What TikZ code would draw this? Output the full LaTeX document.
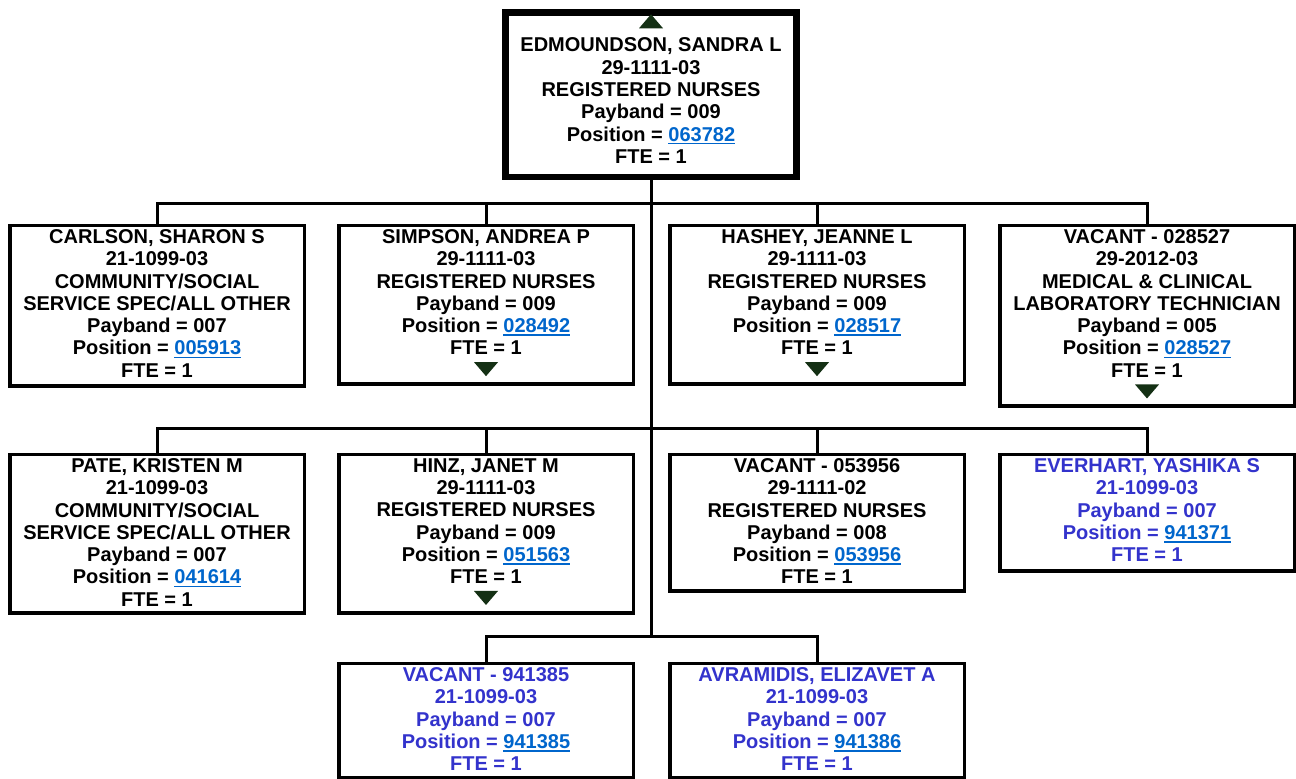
\documentclass[tikz,border=0pt]{standalone}
\usepackage{fontspec}
\setmainfont{Liberation Sans}[BoldFont={Liberation Sans Bold}]
\definecolor{linkblue}{RGB}{0,102,204}
\definecolor{newblue}{RGB}{51,51,204}
\definecolor{tricol}{RGB}{20,48,20}
\newcommand\lnk[1]{\leavevmode\textcolor{linkblue}{\setbox0\hbox{#1}\rlap{\rule[-3.2pt]{\wd0}{1.6pt}}\box0}}
\begin{document}
\begin{tikzpicture}[x=1pt,y=1pt,
  box/.style={draw=black, line width=3.5pt, minimum width=294.5pt, anchor=north, inner sep=0pt, fill=white},
  topbox/.style={draw=black, line width=6.5pt, minimum width=291pt, anchor=north, inner sep=0pt, fill=white},
  txt/.style={font=\bfseries\fontsize{20}{22.3}\selectfont, align=center, inner sep=0pt, anchor=north},
  newtxt/.style={txt, text=newblue},
  wire/.style={line width=3pt},
  tri/.style={fill=tricol}]
\useasboundingbox (0,0) rectangle (1296,-779);

% boxes
\node[topbox, minimum height=164.5pt] (b0) at (651,-9.25) {};
\node[box, minimum height=160.5pt] (b1) at (157,-223.75) {};
\node[box, minimum height=158.5pt] (b2) at (486,-223.75) {};
\node[box, minimum height=158.5pt] (b3) at (817,-223.75) {};
\node[box, minimum height=180.5pt] (b4) at (1147,-223.75) {};
\node[box, minimum height=158.5pt] (b5) at (157,-452.75) {};
\node[box, minimum height=158.5pt] (b6) at (486,-452.75) {};
\node[box, minimum height=136.5pt] (b7) at (817,-452.75) {};
\node[box, minimum height=116.5pt] (b8) at (1147,-452.75) {};
\node[box, minimum height=114.5pt] (b9) at (486,-661.75) {};
\node[box, minimum height=114.5pt] (b10) at (817,-661.75) {};

% texts
\node[txt] (t0) at (651,-37.8) {EDMOUNDSON, SANDRA L\\29-1111-03\\REGISTERED NURSES\\Payband = 009\\Position = \lnk{063782}\\FTE = 1};
\node[txt] (t1) at (157,-229.3) {CARLSON, SHARON S\\21-1099-03\\COMMUNITY/SOCIAL\\SERVICE SPEC/ALL OTHER\\Payband = 007\\Position = \lnk{005913}\\FTE = 1};
\node[txt] (t2) at (486,-229.3) {SIMPSON, ANDREA P\\29-1111-03\\REGISTERED NURSES\\Payband = 009\\Position = \lnk{028492}\\FTE = 1};
\node[txt] (t3) at (817,-229.3) {HASHEY, JEANNE L\\29-1111-03\\REGISTERED NURSES\\Payband = 009\\Position = \lnk{028517}\\FTE = 1};
\node[txt] (t4) at (1147,-229.3) {VACANT - 028527\\29-2012-03\\MEDICAL \& CLINICAL\\LABORATORY TECHNICIAN\\Payband = 005\\Position = \lnk{028527}\\FTE = 1};
\node[txt] (t5) at (157,-458.3) {PATE, KRISTEN M\\21-1099-03\\COMMUNITY/SOCIAL\\SERVICE SPEC/ALL OTHER\\Payband = 007\\Position = \lnk{041614}\\FTE = 1};
\node[txt] (t6) at (486,-458.3) {HINZ, JANET M\\29-1111-03\\REGISTERED NURSES\\Payband = 009\\Position = \lnk{051563}\\FTE = 1};
\node[txt] (t7) at (817,-458.3) {VACANT - 053956\\29-1111-02\\REGISTERED NURSES\\Payband = 008\\Position = \lnk{053956}\\FTE = 1};
\node[newtxt] (t8) at (1147,-458.3) {EVERHART, YASHIKA S\\21-1099-03\\Payband = 007\\Position = \lnk{941371}\\FTE = 1};
\node[newtxt] (t9) at (486,-667.3) {VACANT - 941385\\21-1099-03\\Payband = 007\\Position = \lnk{941385}\\FTE = 1};
\node[newtxt] (t10) at (817,-667.3) {AVRAMIDIS, ELIZAVET A\\21-1099-03\\Payband = 007\\Position = \lnk{941386}\\FTE = 1};

% triangles
\fill[tri] ([shift={(-12,9.5)}]t0.north) -- ++(24,0) -- ++(-12,14) -- cycle;
\foreach \t in {t2,t3,t4,t6}
  \fill[tri] ([shift={(-12,-7)}]\t.south) -- ++(24,0) -- ++(-12,-14) -- cycle;

% connectors
\coordinate (j1) at (651,-203);
\coordinate (j2) at (651,-428);
\coordinate (j3) at (651,-636);
\draw[wire] (b0.south) -- (j3);
\draw[wire] (b1.north) |- (j1);
\draw[wire] (b4.north) |- (j1);
\draw[wire] (b2.north) -- (b2.north |- j1);
\draw[wire] (b3.north) -- (b3.north |- j1);
\draw[wire] (b5.north) |- (j2);
\draw[wire] (b8.north) |- (j2);
\draw[wire] (b6.north) -- (b6.north |- j2);
\draw[wire] (b7.north) -- (b7.north |- j2);
\draw[wire] (b9.north) |- (j3);
\draw[wire] (b10.north) |- (j3);
\end{tikzpicture}
\end{document}
